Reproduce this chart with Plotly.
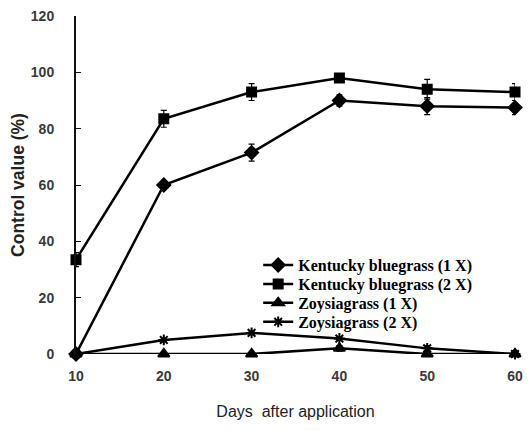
import plotly.graph_objects as go

days = [10, 20, 30, 40, 50, 60]
kb1 = [0, 60, 71.5, 90, 88, 87.5]
kb1_err = [0, 1, 3, 2, 3, 2.5]
kb2 = [33.5, 83.5, 93, 98, 94, 93]
kb2_err = [2.5, 3, 3, 1.5, 3.5, 3]
zo1 = [0, 0, 0, 2, 0, 0]
zo1_err = [0, 0, 0, 1, 0, 0]
zo2 = [0, 5, 7.5, 5.5, 2, 0]
zo2_err = [0, 0.5, 0.5, 0.5, 1, 0]

names = ["Kentucky bluegrass (1 X)", "Kentucky bluegrass (2 X)",
         "Zoysiagrass (1 X)", "Zoysiagrass (2 X)"]
series = [kb1, kb2, zo1, zo2]
errs = [kb1_err, kb2_err, zo1_err, zo2_err]
symbols = ["diamond", "square", "triangle-up", "asterisk-open"]
sizes = [10, 9, 10, 9]
legend_ids = ["legend", "legend2", "legend3", "legend4"]
legend_y = [0.263, 0.207, 0.151, 0.095]

fig = go.Figure()
for n, s, e, sym, sz, lg in zip(names, series, errs, symbols, sizes, legend_ids):
    fig.add_trace(go.Scatter(
        x=days, y=s, name=n, mode="lines+markers", legend=lg,
        line=dict(color="black", width=2.5),
        marker=dict(symbol=sym, size=sz, color="black",
                    line=dict(color="black", width=2)),
        error_y=dict(type="data", array=e, visible=True, color="black",
                     thickness=1.2, width=3),
        cliponaxis=False,
    ))

legend_font = dict(family="Liberation Serif", size=16, color="black", weight="bold")
layout_legends = {}
for lg, ly in zip(legend_ids, legend_y):
    layout_legends[lg] = dict(x=0.415, y=ly, xanchor="left", yanchor="middle",
                              font=legend_font, bgcolor="rgba(0,0,0,0)",
                              itemwidth=30)

fig.update_layout(
    width=529, height=430,
    margin=dict(l=76, r=14, t=16, b=76, autoexpand=False),
    paper_bgcolor="white", plot_bgcolor="white",
    showlegend=True,
    font=dict(family="Liberation Sans", color="#3a3a3a"),
    **layout_legends,
)
fig.update_xaxes(
    range=[10, 60], tickvals=days, showgrid=False, zeroline=False,
    showline=False, ticks="", automargin=False,
    tickfont=dict(family="Liberation Sans", size=14, color="#3a3a3a", weight="bold"),
    title=dict(text="Days  after application",
               font=dict(family="Liberation Sans", size=16, color="#222222"),
               standoff=22),
    ticklabelstandoff=12,
)
fig.update_yaxes(
    range=[0, 120], tickvals=[0, 20, 40, 60, 80, 100, 120], showgrid=False,
    zeroline=False, showline=True, linecolor="#111111", linewidth=2,
    ticks="inside", ticklen=5, tickcolor="#111111", automargin=False,
    tickfont=dict(family="Liberation Sans", size=14, color="#3a3a3a", weight="bold"),
    title=dict(text="Control value (%)",
               font=dict(family="Liberation Sans", size=17.5, color="#222222", weight="bold"),
               standoff=2),
    ticklabelstandoff=17,
)

fig.write_html("out.html", config={"displayModeBar": False},
               post_script="document.body.style.margin='0';document.body.style.overflow='hidden';")
